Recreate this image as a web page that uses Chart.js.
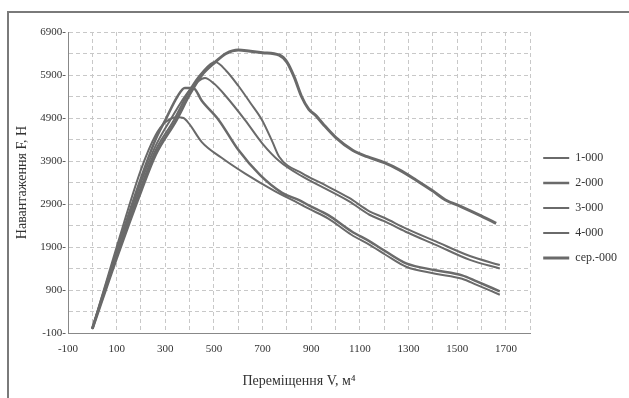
<!DOCTYPE html>
<html>
<head>
<meta charset="utf-8">
<script src="https://cdn.jsdelivr.net/npm/chart.js@4/dist/chart.umd.min.js"></script>
<style>
  html, body { margin: 0; padding: 0; background: #fff; }
  #wrap { width: 629px; height: 398px; position: relative; }
</style>
</head>
<body>
<div id="wrap"><canvas id="chart" width="629" height="398"></canvas></div>
<script>
// series labels
var seriesNames = ['1-000', '2-000', '3-000', '4-000', 'сер.-000'];

// displacement (x) and load (y), one pair of arrays per curve
var x1 = [0, 100, 200, 260, 300, 350, 375, 400, 450, 530, 630, 750, 850, 890, 970, 1065, 1140, 1205, 1290, 1410, 1520, 1580, 1675];
var y1 = [0, 1900, 3700, 4500, 4800, 4920, 4900, 4750, 4340, 3980, 3600, 3200, 2910, 2790, 2560, 2185, 1950, 1720, 1440, 1280, 1160, 1020, 790];

var x2 = [0, 100, 200, 260, 300, 350, 380, 415, 450, 520, 600, 690, 780, 850, 890, 970, 1065, 1140, 1205, 1290, 1410, 1520, 1580, 1675];
var y2 = [0, 1800, 3500, 4400, 4850, 5400, 5600, 5600, 5300, 4850, 4160, 3570, 3160, 2990, 2870, 2640, 2265, 2030, 1800, 1520, 1360, 1240, 1100, 870];

var x3 = [0, 100, 200, 260, 320, 400, 463, 500, 550, 628, 700, 768, 863, 950, 1056, 1139, 1200, 1288, 1412, 1552, 1675];
var y3 = [0, 1750, 3400, 4250, 4850, 5550, 5830, 5700, 5400, 4850, 4300, 3900, 3540, 3280, 2960, 2650, 2500, 2255, 1950, 1600, 1400];

var x4 = [0, 100, 200, 260, 335, 400, 450, 505, 550, 600, 650, 698, 740, 768, 863, 950, 1056, 1139, 1200, 1288, 1412, 1552, 1675];
var y4 = [0, 1700, 3300, 4150, 4850, 5550, 5950, 6200, 6000, 5650, 5250, 4850, 4350, 4000, 3610, 3360, 3040, 2730, 2580, 2335, 2030, 1690, 1480];

var x5 = [0, 100, 200, 260, 345, 400, 450, 505, 550, 600, 650, 700, 768, 800, 830, 860, 890, 920, 950, 1000, 1070, 1130, 1200, 1260, 1330, 1400, 1450, 1520, 1600, 1660];
var y5 = [0, 1650, 3200, 4050, 4850, 5450, 5900, 6200, 6400, 6480, 6450, 6420, 6365, 6200, 5850, 5400, 5100, 4950, 4750, 4450, 4150, 4000, 3860, 3700, 3460, 3200, 3000, 2830, 2620, 2450];

// axis ticks
var xTicks = [-100, 100, 300, 500, 700, 900, 1100, 1300, 1500, 1700];
var yTicks = [-100, 900, 1900, 2900, 3900, 4900, 5900, 6900];

function pairs(xs, ys) {
    var out = [];
    for (var i = 0; i < xs.length; i++) out.push({x: xs[i], y: ys[i]});
    return out;
}

var allX = [x1, x2, x3, x4, x5];
var allY = [y1, y2, y3, y4, y5];
var widths = [2, 2.5, 2, 2, 3];
var lineColor = '#6a6a6a';

var datasets = seriesNames.map(function(name, i) {
    return {
        label: name,
        data: pairs(allX[i], allY[i]),
        borderColor: lineColor,
        backgroundColor: lineColor,
        borderWidth: widths[i],
        pointRadius: 0,
        pointStyle: 'line',
        showLine: true,
        fill: false,
        cubicInterpolationMode: 'monotone'
    };
});

// outer frame like the scanned page border
var framePlugin = {
    id: 'frame',
    beforeDraw: function(chart) {
        var c = chart.ctx;
        c.save();
        c.fillStyle = '#fff';
        c.fillRect(0, 0, chart.width, chart.height);
        c.strokeStyle = '#7a7a7a';
        c.lineWidth = 2;
        c.strokeRect(8, 12, chart.width + 10, chart.height + 10);
        c.restore();
    }
};

var ctx = document.getElementById('chart').getContext('2d');
var chart = new Chart(ctx, {
    type: 'scatter',
    data: { datasets: datasets },
    plugins: [framePlugin],
    options: {
        responsive: false,
        animation: false,
        layout: { padding: { left: 10, top: 32, right: 2, bottom: 14 } },
        plugins: {
            legend: {
                position: 'right',
                labels: {
                    usePointStyle: true,
                    pointStyle: 'line',
                    pointStyleWidth: 26,
                    color: '#333',
                    padding: 13,
                    font: { family: 'Liberation Serif', size: 12 }
                }
            },
            tooltip: { enabled: false }
        },
        scales: {
            x: {
                type: 'linear',
                min: -100,
                max: 1800,
                afterBuildTicks: function(s) {
                    var t = [];
                    for (var v = -100; v <= 1800; v += 100) t.push({value: v});
                    s.ticks = t;
                },
                afterFit: function(s) { s.height = 51; },
                ticks: {
                    autoSkip: false,
                    maxRotation: 0,
                    padding: 10,
                    color: '#333',
                    font: { family: 'Liberation Serif', size: 11 },
                    callback: function(v) { return xTicks.indexOf(v) >= 0 ? String(v) : ''; }
                },
                grid: { color: '#c8c8c8', lineWidth: 1, drawTicks: false },
                border: { color: '#888', dash: [4, 3] },
                title: {
                    display: true,
                    text: 'Переміщення V, м⁴',
                    color: '#333',
                    font: { family: 'Liberation Serif', size: 14 },
                    padding: { top: 4, bottom: -6 }
                }
            },
            y: {
                type: 'linear',
                min: -100,
                max: 6900,
                afterBuildTicks: function(s) {
                    var t = [];
                    for (var v = -100; v <= 6900; v += 500) t.push({value: v});
                    s.ticks = t;
                },
                afterFit: function(s) { s.width = 58; },
                ticks: {
                    autoSkip: false,
                    padding: 2,
                    color: '#333',
                    font: { family: 'Liberation Serif', size: 11 },
                    callback: function(v) { return yTicks.indexOf(v) >= 0 ? v + '-' : ''; }
                },
                grid: { color: '#c8c8c8', lineWidth: 1, drawTicks: false },
                border: { color: '#888', dash: [4, 3] },
                title: {
                    display: true,
                    text: 'Навантаження F, Н',
                    color: '#333',
                    font: { family: 'Liberation Serif', size: 14 }
                }
            }
        }
    }
});
</script>
</body>
</html>
